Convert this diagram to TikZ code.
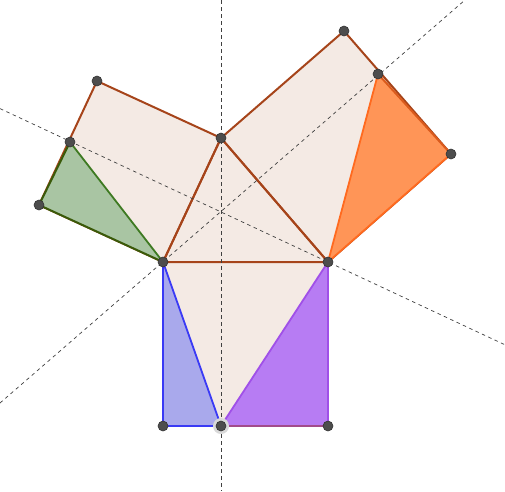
\documentclass[tikz,border=0pt]{standalone}
\definecolor{pale}{HTML}{F4EAE4}
\definecolor{brn}{HTML}{A6441A}
\definecolor{grnF}{HTML}{A9C5A3}
\definecolor{grnE}{HTML}{3E7A22}
\definecolor{grnD}{HTML}{3A5A0A}
\definecolor{orgF}{HTML}{FF9557}
\definecolor{orgE}{HTML}{FF6A1F}
\definecolor{purF}{HTML}{B77CF3}
\definecolor{purE}{HTML}{A050E8}
\definecolor{bluF}{HTML}{A9A9EC}
\definecolor{bluE}{HTML}{3A3AF5}
\definecolor{ptF}{HTML}{4D4D4D}
\tikzset{
  sq/.style={fill=pale,draw=brn,line width=2pt,line join=round},
  aux/.style={draw=black!75,line width=0.7pt,dash pattern=on 3.5pt off 3.5pt},
  pt/.style={circle,fill=ptF,draw=black!80,line width=0.6pt,inner sep=0pt,minimum size=10pt},
}
\begin{document}
\begin{tikzpicture}[x=1pt,y=-1pt]
\useasboundingbox (0,0) rectangle (505,491);
% vertices
\coordinate (A) at (163,262);
\coordinate (B) at (328,262);
\coordinate (C) at (221,138);
\coordinate (D) at (163,426);
\coordinate (E) at (328,426);
\coordinate (H) at (221,426);
\coordinate (C1) at (97,81);
\coordinate (A1) at (39,205);
\coordinate (G) at (70,142);
\coordinate (C2) at (344,31);
\coordinate (B2) at (451,154);
\coordinate (F) at (378,74);
% dashed line ends
\coordinate (V1) at (221,0);
\coordinate (V2) at (221,491);
\coordinate (P1) at (0,108.6);
\coordinate (P2) at (505,344.8);
\coordinate (Q1) at (0,403);
\coordinate (Q2) at (465,0);
% pale squares and triangle
\fill[pale] (A) -- (C) -- (B) -- cycle;
\draw[sq] (A) -- (B) -- (E) -- (D) -- cycle;
\draw[sq] (A) -- (C) -- (C1) -- (A1) -- cycle;
\draw[sq] (C) -- (B) -- (B2) -- (C2) -- cycle;
\draw[brn,line width=2pt,line join=round] (A) -- (C) -- (B) -- cycle;
% coloured triangles
\fill[grnF] (G) -- (A1) -- (A) -- cycle;
\draw[grnE,line width=1.8pt] (A) -- (G);
\draw[grnD,line width=2pt,line join=round] (G) -- (A1) -- (A);
\fill[orgF] (F) -- (B2) -- (B) -- cycle;
\draw[orgE,line width=1.8pt,line join=round] (B2) -- (B) -- (F);
\draw[orgE!60!brn,line width=2pt] (F) -- (B2);
\fill[purF] (H) -- (E) -- (B) -- cycle;
\draw[purE,line width=1.8pt] (H) -- (B) -- (E);
\draw[purE!55!brn,line width=2pt] (E) -- (H);
\fill[bluF] (A) -- (D) -- (H) -- cycle;
\draw[bluE,line width=1.8pt,line join=round] (H) -- (A) -- (D) -- (H);
% dashed lines
\draw[aux] (V1) -- (V2);
\draw[aux] (P1) -- (P2);
\draw[aux] (Q1) -- (Q2);
% points
\fill[black!15] (H) circle (8pt);
\foreach \p in {A,B,C,D,E,H,C1,A1,G,C2,B2,F}
  \node[pt] (n\p) at (\p) {};
\end{tikzpicture}
\end{document}
